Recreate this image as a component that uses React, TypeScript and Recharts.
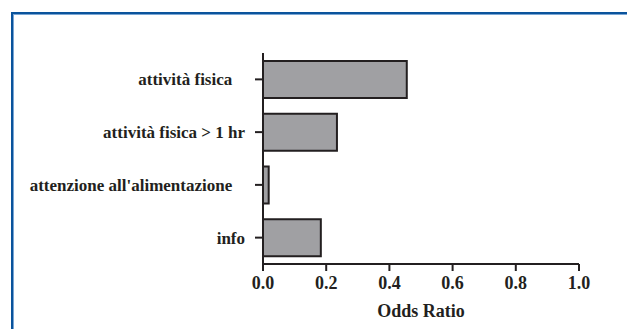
import { BarChart, Bar, XAxis, YAxis } from 'recharts';

const categories = [
  'attività fisica\u00a0\u00a0\u00a0',
  'attività fisica > 1 hr',
  "attenzione all'alimentazione\u00a0\u00a0\u00a0",
  'info',
];
const oddsRatio = [0.455, 0.234, 0.018, 0.183];
const xTicks = [0, 0.2, 0.4, 0.6, 0.8, 1.0];

const data = categories.map((name, i) => ({ name, value: oddsRatio[i] }));

const ink = '#231f20';
const font = '"Liberation Serif", "Times New Roman", serif';

export default function App() {
  return (
    <div style={{ position: 'absolute', left: 0, top: 0, width: 627, height: 329, background: '#fff', overflow: 'hidden' }}>
      <div
        style={{
          position: 'absolute',
          left: 11,
          top: 12,
          width: 700,
          height: 400,
          borderLeft: '2px solid #0a539c',
          borderTop: '2px solid #0a539c',
        }}
      />
      <div
        style={{
          position: 'absolute',
          left: 13,
          top: 14,
          width: 700,
          height: 400,
          borderLeft: '1px solid #7aa6d4',
          borderTop: '1px solid #7aa6d4',
        }}
      />
      <div style={{ position: 'absolute', left: 0, top: 0 }}>
        <BarChart
          layout="vertical"
          width={627}
          height={329}
          data={data}
          margin={{ top: 53, right: 48, bottom: 0, left: 0 }}
        >
          <XAxis
            type="number"
            domain={[0, 1]}
            ticks={xTicks}
            tickFormatter={(v: number) => v.toFixed(1)}
            height={65}
            tickSize={7}
            tickMargin={5}
            axisLine={{ stroke: ink, strokeWidth: 2 }}
            tickLine={{ stroke: ink, strokeWidth: 2 }}
            tick={{ fill: ink, fontSize: 18, fontWeight: 'bold', fontFamily: font }}
            label={{
              value: 'Odds Ratio',
              position: 'insideBottom',
              offset: 12,
              fill: ink,
              fontSize: 18,
              fontWeight: 'bold',
              fontFamily: font,
            }}
          />
          <YAxis
            type="category"
            dataKey="name"
            width={263}
            tickSize={8}
            tickMargin={10}
            axisLine={{ stroke: ink, strokeWidth: 2 }}
            tickLine={{ stroke: ink, strokeWidth: 2 }}
            tick={{ fill: ink, fontSize: 17, fontWeight: 'bold', fontFamily: font }}
            interval={0}
          />
          <Bar
            dataKey="value"
            fill="#a0a0a3"
            stroke={ink}
            strokeWidth={2}
            barSize={37}
            isAnimationActive={false}
          />
        </BarChart>
      </div>
    </div>
  );
}
